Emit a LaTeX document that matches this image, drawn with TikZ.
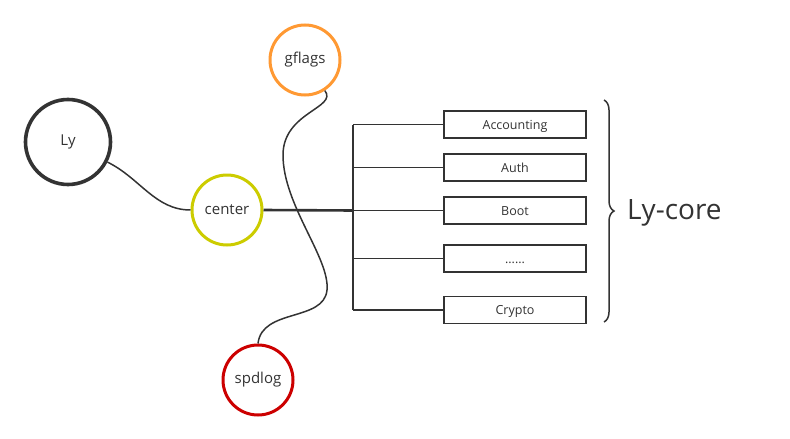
\documentclass[tikz,border=0pt]{standalone}
\usepackage{fontspec}
\setmainfont{Open Sans}
\usetikzlibrary{decorations.pathreplacing}
\definecolor{ink}{HTML}{333333}
\definecolor{cyel}{HTML}{CCCC00}
\definecolor{corg}{HTML}{FF9933}
\definecolor{cred}{HTML}{CC0000}
\begin{document}
\begin{tikzpicture}[x=1pt,y=-1pt,
  circ/.style={circle,draw,line width=3pt,minimum size=#1,inner sep=0pt,text=ink,font=\fontsize{15}{17}\selectfont},
  modbox/.style={draw=ink,line width=1.9pt,minimum width=142pt,minimum height=27pt,inner sep=0pt,text=ink,text height=11.5pt,text depth=2pt,font=\fontsize{12.5}{14}\selectfont},
  wire/.style={draw=ink,line width=1.5pt},
  bus/.style={draw=ink,line width=1.7pt}]
\useasboundingbox (0,0) rectangle (790,439);
\node[circ=85pt,draw=ink,line width=3.6pt] (Ly) at (68,142) {Ly};
\node[circ=70pt,draw=cyel] (center) at (227,210) {center};
\node[circ=70pt,draw=corg] (gflags) at (305,60) {gflags};
\node[circ=70pt,draw=cred] (spdlog) at (258,380) {spdlog};

\node[modbox] (acc) at (515,124.5) {Accounting};
\node[modbox] (auth) at (515,167.5) {Auth};
\node[modbox] (boot) at (515,210.5) {Boot};
\node[modbox] (dots) at (515,258.5) {......};
\node[modbox] (cry) at (515,310) {Crypto};

\coordinate (bus) at (353,210.5);
\coordinate (brtop) at (604,100);
\coordinate (brbot) at (604,322);
\node[anchor=west,text=ink,font=\fontsize{28}{30}\selectfont,inner sep=0pt] (core) at (627,213) {Ly-core};

\draw[wire] (Ly.-27) .. controls (140,178) and (155,210) .. (center.west);
\draw[wire] (gflags.-57) .. controls (338,108) and (283,112) .. (283,155)
  .. controls (283,205) and (330,258) .. (327,290)
  .. controls (324,322) and (262,308) .. (spdlog.north);
\draw[draw=ink,line width=2.6pt] (center.east) -- (bus);
\draw[bus] (bus |- acc.west) -- (bus |- cry.west);
\draw[bus] (bus |- acc.west) -- (acc.west);
\draw[bus] (bus |- auth.west) -- (auth.west);
\draw[bus] (bus) -- (boot.west);
\draw[bus] (bus |- dots.west) -- (dots.west);
\draw[bus] (bus |- cry.west) -- (cry.west);
\draw[draw=ink,line width=1.5pt,decorate,decoration={brace,amplitude=10pt}] (brtop) -- (brbot);
\end{tikzpicture}
\end{document}
